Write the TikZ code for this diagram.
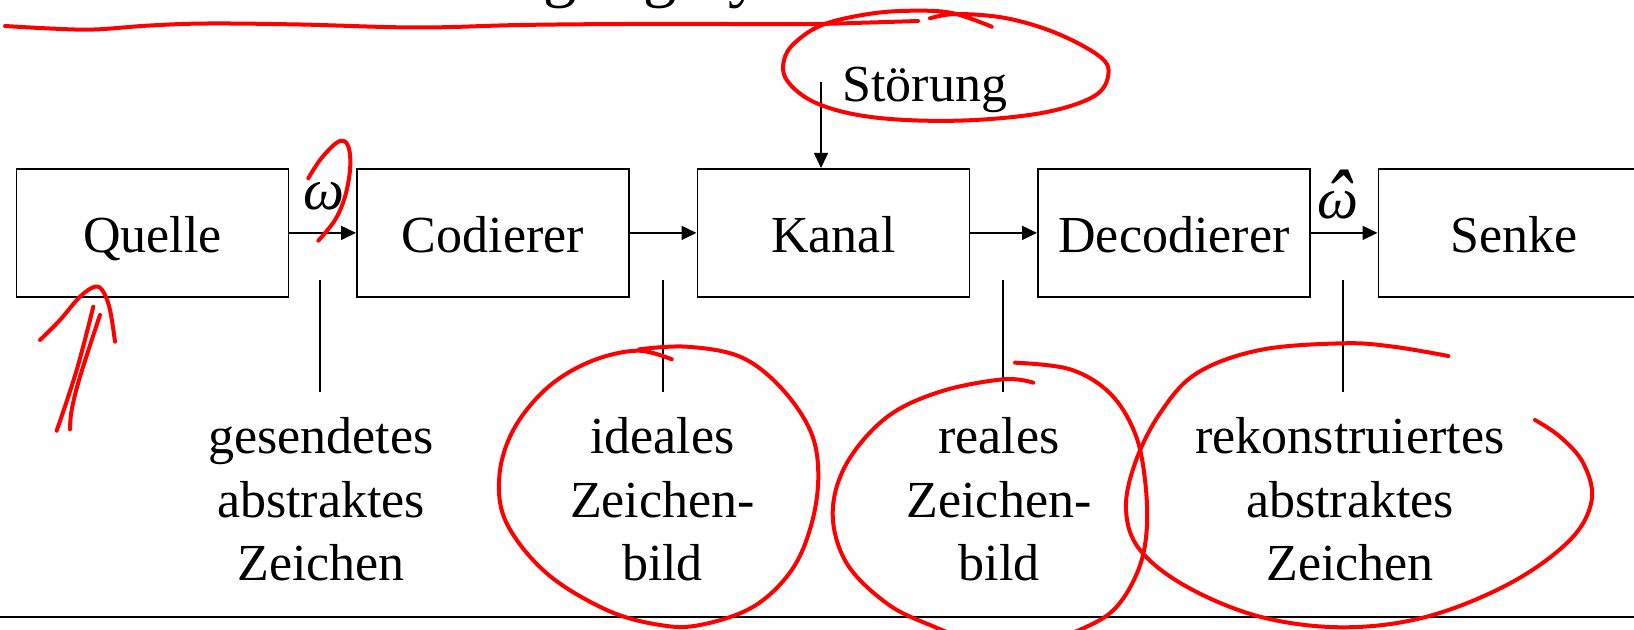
\documentclass[tikz,border=0pt]{standalone}
\usepackage{fontspec}
\setmainfont{Liberation Serif}
\usetikzlibrary{arrows.meta}
\begin{document}
\begin{tikzpicture}[x=0.5pt,y=-0.5pt,
  every node/.style={inner sep=0pt},
  txt/.style={font=\fontsize{26}{31.75}\selectfont},
  sym/.style={font=\fontsize{29}{34}\selectfont\itshape, anchor=base},
  blk/.style={txt, draw, line width=0.9pt, minimum width=136pt, minimum height=64pt,
    anchor=north west, text height=20pt, text depth=0pt},
  lbl/.style={txt, align=center, anchor=north},
  arr/.style={line width=0.8pt, -{Triangle[length=7.5pt,width=7pt]}},
  tick/.style={line width=0.7pt},
  redink/.style={draw=red, line width=2pt, line cap=round, line join=round}]
\useasboundingbox (0,0) rectangle (1634,630);
\begin{scope}
\clip (0,0) rectangle (1634,630);
% cut-off title above
\node[anchor=base west, font=\fontsize{33.3}{40}\selectfont] (title) at (340,-5) {Übertragungssystem};
% blocks
\node[blk] (q) at (15.5,168) {Quelle};
\node[blk] (c) at (356,168) {Codierer};
\node[blk] (k) at (696.5,168) {Kanal};
\node[blk] (d) at (1037,168) {Decodierer};
\node[blk] (s) at (1377.5,168) {Senke};
% arrows
\draw[arr] (q.east) -- (c.west);
\draw[arr] (c.east) -- (k.west);
\draw[arr] (k.east) -- (d.west);
\draw[arr] (d.east) -- (s.west);
% symbols
\node[sym] (w) at (324,210) {ω};
\node[sym] (wh) at (1338,219) {\ooalign{ω\cr\hidewidth\raisebox{-0.26em}{\scalebox{1.3}[1.6]{ˆ}}\hidewidth\cr}};
% Stoerung
\node[txt, anchor=base west] (st) at (842,102) {Störung};
\coordinate (sa) at (821,82);
\draw[arr] (sa) -- (sa |- k.north);
% ticks
\coordinate (t1a) at (320,280);  \coordinate (t1b) at (320,392);
\coordinate (t2a) at (663,280);  \coordinate (t2b) at (663,392);
\coordinate (t3a) at (1003,280); \coordinate (t3b) at (1003,392);
\coordinate (t4a) at (1343,280); \coordinate (t4b) at (1343,392);
\draw[tick] (t1a) -- (t1b);
\draw[tick] (t2a) -- (t2b);
\draw[tick] (t3a) -- (t3b);
\draw[tick] (t4a) -- (t4b);
% labels
\node[lbl] (l1) at (321,417.5) {gesendetes\\abstraktes\\Zeichen};
\node[lbl] (l2) at (662.5,417.5) {ideales\\Zeichen-\\bild};
\node[lbl] (l3) at (999,417.5) {reales\\Zeichen-\\bild};
\node[lbl] (l4) at (1350,417.5) {rekonstruiertes\\abstraktes\\Zeichen};
% bottom rule
\draw[line width=1.2pt] (0,617) -- (1634,617);
% red annotations
\draw[redink] plot[smooth, tension=0.6] coordinates {(5,26) (50,28.5) (94,29.5) (150,25.5) (208,23.5) (300,24.5) (417,27.5) (520,25) (625,24) (720,24) (813,24) (870,22.5) (918,21)};
\draw[redink] plot[smooth, tension=0.6] coordinates {(930,18.3) (956.7,14) (1006.7,18.3) (1056.7,33.3) (1100,56.7) (1108.3,75) (1093.3,96.7) (1040,113.3) (956.7,120.7) (873.3,117.3) (816.7,103.3) (786.7,80) (785,56.7) (800,38.3) (826.7,23.3) (873.3,13.3) (916.7,10.7) (953.3,13.3) (991.7,26.7)};
\draw[redink] plot[smooth, tension=0.6] coordinates {(308.3,178.3) (320,160) (335,144) (344,141) (349.3,150) (350,170) (345,196.7) (335,220) (318.3,240.7)};
\draw[redink] plot[smooth, tension=0.6] coordinates {(40,340) (60,320) (80,296.7) (95,286.7) (103.3,291.7) (110,310) (115,341.7)};
\draw[redink] plot[smooth, tension=0.6] coordinates {(93.3,306.7) (76.7,370) (56.7,430.7)};
\draw[redink] plot[smooth, tension=0.6] coordinates {(100,315) (80,376.7) (71.7,410) (70,429.3)};
\draw[redink] plot[smooth, tension=0.6] coordinates {(639.3,349.3) (686.7,346.7) (740,356.7) (780,386.7) (810,430) (818.3,473.3) (811.7,523.3) (791.7,570) (753.3,606.7) (700,625) (660,625) (606.7,610) (546.7,573.3) (506.7,523.3) (499.3,476.7) (513.3,430) (546.7,388.3) (590,361.7) (636.7,350.7) (671.7,359.3)};
\draw[redink] plot[smooth, tension=0.6] coordinates {(1015,362.7) (1070,369.3) (1110,393.3) (1135,433.3) (1145,480) (1146.7,530) (1138.3,570) (1116.7,606.7) (1086.7,626.7) (1040,642) (980,642) (930,625) (886.7,603.3) (846.7,563.3) (832.7,513.3) (846.7,463.3) (886.7,417.3) (940,391.7) (1003.3,379.3) (1033.3,382.7)};
\draw[redink] plot[smooth, tension=0.6] coordinates {(1448.3,356) (1393.3,346.7) (1343.3,343.3) (1260,350) (1196.7,373.3) (1160,413.3) (1135,463.3) (1126,510) (1140,550) (1186.7,586.7) (1260,616.7) (1343.3,627.3) (1426.7,616.7) (1510,583.3) (1570,540) (1591.7,500) (1583.3,463.3) (1560,436.7) (1535,420)};
\end{scope}
\end{tikzpicture}
\end{document}
